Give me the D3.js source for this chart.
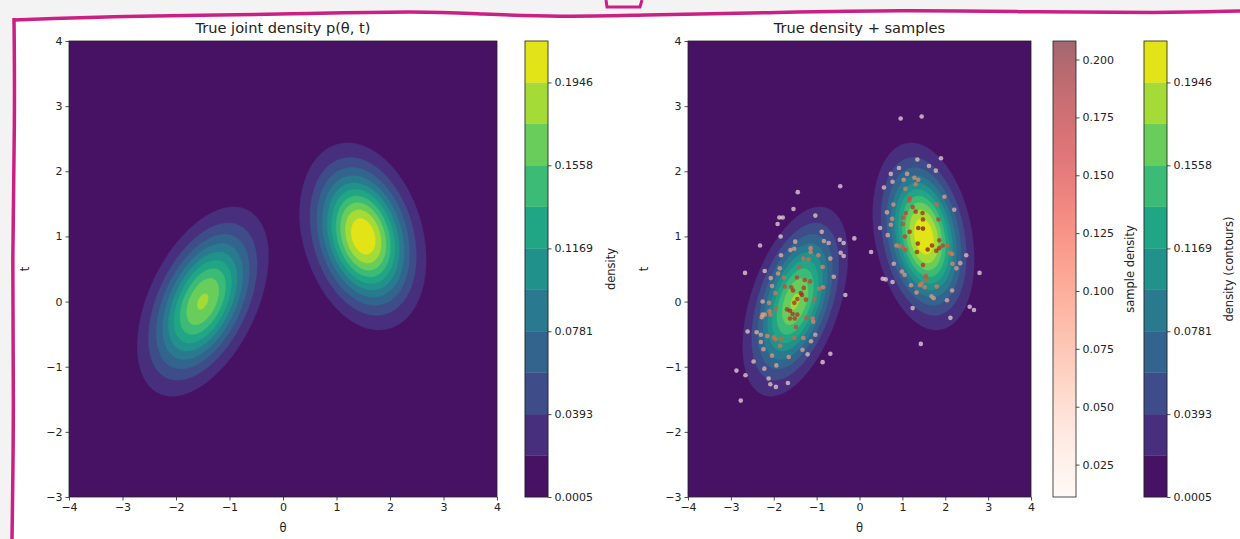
<!DOCTYPE html>
<html>
<head>
<meta charset="utf-8">
<script src="https://cdn.jsdelivr.net/npm/d3@7"></script>
<style>
  body { margin: 0; background: #f3f3f3; }
  text { font-family: 'DejaVu Sans', sans-serif; fill: #222; }
</style>
</head>
<body>
<svg id="chart" width="1240" height="539"></svg>
<script>
// axis ranges and ticks
const thetaDomain = [-4, 4];
const tDomain = [-3, 4];
const thetaTicks = [-4, -3, -2, -1, 0, 1, 2, 3, 4];
const tTicks = [-3, -2, -1, 0, 1, 2, 3, 4];

// mixture (two tilted gaussians)
const compWeight = [0.40, 0.46];
const compMeanTheta = [-1.5, 1.5];
const compMeanT = [0.0, 1.0];
const compSdTheta = [0.584, 0.54];
const compSdT = [0.694, 0.66];
const compRho = [0.47, -0.25];

// contour levels + colorbar ticks
const levels = [0.0005, 0.0199, 0.0393, 0.0587, 0.0781, 0.0975, 0.1169, 0.1364, 0.1558, 0.1752, 0.1946, 0.2140];
const densityTicks = [0.0005, 0.0393, 0.0781, 0.1169, 0.1558, 0.1946];
const sampleTicks = [0.025, 0.050, 0.075, 0.100, 0.125, 0.150, 0.175, 0.200];
const sampleRange = [0.011, 0.208];

// samples (theta, t)
const sampleTheta = [
  -0.45, -1.44, -1.54, -1.87, -1.79, -1.91, -1.03, -0.12, -0.88, -0.83, -0.72, -0.46, -0.37, -2.32, -1.84, -1.50,
  -1.61, -1.52, -1.14, -1.14, -0.96, -0.44, -0.37, -0.68, -1.83, -1.31, -1.19, -0.86, -1.41, -2.67, -2.21, -1.86,
  -1.90, -2.07, -1.76, -1.46, -1.28, -1.15, -0.60, -2.04, -1.74, -1.59, -1.30, -0.94, -0.85, -1.96, -1.37, -0.33,
  -2.26, -2.11, -1.45, -1.52, -1.25, -1.05, -1.96, -2.10, -1.69, -1.62, -2.26, -2.21, -2.28, -2.08, -1.56, -1.45,
  -1.62, -1.51, -1.24, -1.09, -1.08, -1.48, -2.61, -2.40, -2.30, -2.15, -2.00, -1.96, -1.83, -1.52, -1.31, -1.03,
  -1.13, -2.30, -1.85, -2.24, -1.33, -1.21, -2.04, -1.65, -0.68, -0.86, -2.47, -1.94, -2.22, -2.87, -2.66, -2.12,
  -2.08, -1.95, -1.67, -2.77, -1.55, -1.34,
  0.96, 1.45, 1.35, 1.90, 1.62, 1.78, 0.92, 0.73, 1.11, 1.28, 1.37, 0.77, 1.03, 1.31, 0.57, 1.07,
  1.98, 1.18, 1.16, 0.79, 1.80, 1.24, 1.31, 1.08, 0.64, 2.21, 1.47, 1.02, 0.76, 0.73, 1.01, 1.84,
  1.48, 0.48, 1.37, 1.48, 0.66, 1.06, 1.17, 1.36, 1.59, 1.69, 1.34, 1.86, 1.94, 1.86, 1.79, 2.06,
  0.86, 0.93, 1.01, 1.07, 0.27, 2.11, 2.16, 2.49, 0.80, 1.48, 2.17, 2.35, 2.26, 0.99, 1.05, 2.80,
  1.55, 1.56, 0.54, 0.61, 0.77, 1.45, 1.41, 1.52, 1.20, 1.80, 1.33, 2.16, 1.68, 1.73, 2.04, 1.24,
  2.57, 2.67, 2.12, 1.43
];
const sampleT = [
  1.77, 1.68, 1.42, 1.29, 1.29, 1.19, 1.32, 0.97, 1.07, 0.93, 0.90, 0.95, 0.90, 0.86, 1.00, 0.92,
  0.79, 0.81, 0.82, 0.76, 0.71, 0.75, 0.70, 0.66, 0.71, 0.66, 0.65, 0.53, 0.53, 0.44, 0.47, 0.51,
  0.43, 0.36, 0.37, 0.37, 0.33, 0.31, 0.38, 0.24, 0.23, 0.22, 0.21, 0.20, 0.22, 0.13, 0.13, 0.10,
  0.00, -0.02, 0.04, -0.02, 0.03, 0.04, -0.11, -0.15, -0.12, -0.14, -0.20, -0.20, -0.24, -0.20, -0.19, -0.20,
  -0.26, -0.26, -0.25, -0.26, -0.31, -0.39, -0.46, -0.47, -0.51, -0.53, -0.55, -0.58, -0.57, -0.56, -0.56, -0.51,
  -0.61, -0.62, -0.68, -0.73, -0.74, -0.81, -0.83, -0.85, -0.80, -0.93, -0.92, -0.98, -1.03, -1.06, -1.13, -1.18,
  -1.27, -1.31, -1.25, -1.52, 0.17, 0.10,
  2.81, 2.84, 2.18, 2.20, 2.08, 2.01, 2.05, 1.96, 1.96, 1.90, 1.87, 1.84, 1.87, 1.80, 1.75, 1.73,
  1.61, 1.59, 1.55, 1.49, 1.49, 1.45, 1.38, 1.36, 1.37, 1.41, 1.36, 1.29, 1.27, 1.18, 1.19, 1.26,
  1.26, 1.13, 1.13, 1.12, 1.02, 1.00, 1.07, 0.89, 0.80, 0.86, 0.76, 0.94, 0.86, 0.82, 0.78, 0.86,
  0.86, 0.85, 0.83, 0.79, 0.76, 0.75, 0.73, 0.71, 0.58, 0.56, 0.58, 0.59, 0.51, 0.46, 0.41, 0.44,
  0.39, 0.34, 0.35, 0.34, 0.30, 0.28, 0.25, 0.22, 0.25, 0.23, 0.14, 0.17, 0.08, 0.05, 0.02, -0.10,
  -0.08, -0.13, -0.25, -0.65
];

function density(th, t) {
  let s = 0;
  for (let k = 0; k < compWeight.length; k++) {
    const zx = (th - compMeanTheta[k]) / compSdTheta[k];
    const zy = (t - compMeanT[k]) / compSdT[k];
    const r = compRho[k], q = 1 - r * r;
    s += compWeight[k] / (2 * Math.PI * compSdTheta[k] * compSdT[k] * Math.sqrt(q)) *
      Math.exp(-(zx * zx - 2 * r * zx * zy + zy * zy) / (2 * q));
  }
  return s;
}

const svg = d3.select('#chart');

// decorative frame
const frameLine = d3.line().curve(d3.curveBasis);
svg.append('path')
  .attr('d', 'M14,18 C200,14 380,10 470,14 C540,18 600,16 660,15 C760,12 900,9 1240,12 L1240,539 L13,539 Z')
  .attr('fill', '#fff');
svg.append('path')
  .attr('d', frameLine([[14, 20], [130, 16], [300, 14], [420, 11], [480, 14], [560, 17], [640, 15], [760, 13], [900, 10], [1040, 12], [1160, 13], [1240, 11]]))
  .attr('fill', 'none').attr('stroke', '#cc1f86').attr('stroke-width', 3.5);
svg.append('path')
  .attr('d', frameLine([[14, 18], [15, 120], [12, 260], [14, 400], [12, 539]]))
  .attr('fill', 'none').attr('stroke', '#cc1f86').attr('stroke-width', 3.5);
svg.append('path')
  .attr('d', 'M606,0 L607,7 L640,7 L642,0')
  .attr('fill', 'none').attr('stroke', '#cc1f86').attr('stroke-width', 3);

// density grid
const gridN = 240, gridM = 210;
const grid = new Float64Array(gridN * gridM);
for (let j = 0; j < gridM; j++) {
  for (let i = 0; i < gridN; i++) {
    const th = thetaDomain[0] + (i + 0.5) * (thetaDomain[1] - thetaDomain[0]) / gridN;
    const t = tDomain[0] + (j + 0.5) * (tDomain[1] - tDomain[0]) / gridM;
    grid[j * gridN + i] = density(th, t);
  }
}
const bands = d3.contours().size([gridN, gridM]).thresholds(levels.slice(1, -1))(grid);
const bandColor = i => d3.interpolateViridis((i + 0.5) / (levels.length - 1));

const fmtTick = d3.format('d');

function styleAxis(a) {
  a.select('.domain').remove();
  a.selectAll('text').attr('font-size', 11).style('font-family', "'DejaVu Sans', sans-serif").attr('fill', '#222');
  a.selectAll('line').attr('stroke', '#222').attr('stroke-width', 0.8);
}

function drawPanel(box, title) {
  const x = d3.scaleLinear().domain(thetaDomain).range([box.x0, box.x1]);
  const y = d3.scaleLinear().domain(tDomain).range([box.y1, box.y0]);
  const g = svg.append('g');

  g.append('rect')
    .attr('x', box.x0).attr('y', box.y0)
    .attr('width', box.x1 - box.x0).attr('height', box.y1 - box.y0)
    .attr('fill', bandColor(0));

  const proj = d3.geoTransform({
    point(px, py) {
      this.stream.point(
        x(thetaDomain[0] + px * (thetaDomain[1] - thetaDomain[0]) / gridN),
        y(tDomain[0] + py * (tDomain[1] - tDomain[0]) / gridM));
    }
  });
  const path = d3.geoPath(proj);
  g.selectAll('path.band')
    .data(bands)
    .join('path')
    .attr('class', 'band')
    .attr('d', path)
    .attr('fill', (d, i) => bandColor(i + 1))
    .attr('stroke', (d, i) => bandColor(i + 1))
    .attr('stroke-width', 0.4);

  // spines
  g.append('rect')
    .attr('x', box.x0).attr('y', box.y0)
    .attr('width', box.x1 - box.x0).attr('height', box.y1 - box.y0)
    .attr('fill', 'none').attr('stroke', '#222').attr('stroke-width', 0.8);

  styleAxis(g.append('g')
    .attr('transform', `translate(0,${box.y1})`)
    .call(d3.axisBottom(x).tickValues(thetaTicks).tickSize(3.5).tickPadding(3).tickFormat(fmtTick)));
  styleAxis(g.append('g')
    .attr('transform', `translate(${box.x0},0)`)
    .call(d3.axisLeft(y).tickValues(tTicks).tickSize(3.5).tickPadding(3).tickFormat(fmtTick)));

  g.append('text')
    .attr('x', (box.x0 + box.x1) / 2).attr('y', box.y0 - 8)
    .attr('text-anchor', 'middle').attr('font-size', 14.6)
    .text(title);
  g.append('text')
    .attr('x', (box.x0 + box.x1) / 2).attr('y', box.y1 + 35)
    .attr('text-anchor', 'middle').attr('font-size', 11.5)
    .text('θ');
  g.append('text')
    .attr('transform', `translate(${box.x0 - 40},${(box.y0 + box.y1) / 2}) rotate(-90)`)
    .attr('text-anchor', 'middle').attr('font-size', 11.5)
    .text('t');
  return { x, y, g };
}

function drawViridisBar(bx, label, labelX) {
  const cy = d3.scaleLinear().domain([levels[0], levels[levels.length - 1]]).range([497, 41]);
  const g = svg.append('g');
  g.selectAll('rect.lvl')
    .data(d3.range(levels.length - 1))
    .join('rect')
    .attr('class', 'lvl')
    .attr('x', bx).attr('width', 23)
    .attr('y', i => cy(levels[i + 1]))
    .attr('height', i => cy(levels[i]) - cy(levels[i + 1]))
    .attr('fill', i => bandColor(i))
    .attr('stroke', i => bandColor(i)).attr('stroke-width', 0.3);
  g.append('rect').attr('x', bx).attr('y', 41).attr('width', 23).attr('height', 456)
    .attr('fill', 'none').attr('stroke', '#222').attr('stroke-width', 0.8);
  styleAxis(g.append('g').attr('transform', `translate(${bx + 23},0)`)
    .call(d3.axisRight(cy).tickValues(densityTicks).tickSize(3.5).tickPadding(3).tickFormat(d3.format('.4f'))));
  g.append('text')
    .attr('transform', `translate(${labelX},269) rotate(-90)`)
    .attr('text-anchor', 'middle').attr('dominant-baseline', 'central').attr('font-size', 11.5)
    .text(label);
}

// left panel
drawPanel({ x0: 69, x1: 497, y0: 41, y1: 497 }, 'True joint density p(θ, t)');
drawViridisBar(525, 'density', 611);

// right panel
const right = drawPanel({ x0: 688, x1: 1031, y0: 41, y1: 497 }, 'True density + samples');

const sampleNorm = d3.scaleLinear().domain(sampleRange).clamp(true);
const samples = sampleTheta.map((th, i) => ({ th, t: sampleT[i], dens: density(th, sampleT[i]) }));
right.g.append('g')
  .selectAll('circle')
  .data(samples.slice().sort((a, b) => a.dens - b.dens))
  .join('circle')
  .attr('cx', d => right.x(d.th))
  .attr('cy', d => right.y(d.t))
  .attr('r', 2.3)
  .attr('fill', d => d3.interpolateReds(sampleNorm(d.dens)))
  .attr('fill-opacity', 0.65);

// red colorbar
const redY = d3.scaleLinear().domain(sampleRange).range([497, 41]);
const grad = svg.append('defs').append('linearGradient').attr('id', 'reds')
  .attr('x1', 0).attr('y1', 1).attr('x2', 0).attr('y2', 0);
grad.selectAll('stop')
  .data(d3.range(0, 1.0001, 0.05))
  .join('stop')
  .attr('offset', d => d)
  .attr('stop-color', d => d3.interpolateReds(d))
  .attr('stop-opacity', 0.6);
svg.append('rect').attr('x', 1053).attr('y', 41).attr('width', 23).attr('height', 456).attr('fill', '#fff');
svg.append('rect').attr('x', 1053).attr('y', 41).attr('width', 23).attr('height', 456)
  .attr('fill', 'url(#reds)').attr('stroke', '#222').attr('stroke-width', 0.8);
styleAxis(svg.append('g').attr('transform', 'translate(1076,0)')
  .call(d3.axisRight(redY).tickValues(sampleTicks).tickSize(3.5).tickPadding(3).tickFormat(d3.format('.3f'))));
svg.append('text')
  .attr('transform', 'translate(1130,269) rotate(-90)')
  .attr('text-anchor', 'middle').attr('dominant-baseline', 'central').attr('font-size', 11.5)
  .text('sample density');

drawViridisBar(1144, 'density (contours)', 1229);
</script>
</body>
</html>
